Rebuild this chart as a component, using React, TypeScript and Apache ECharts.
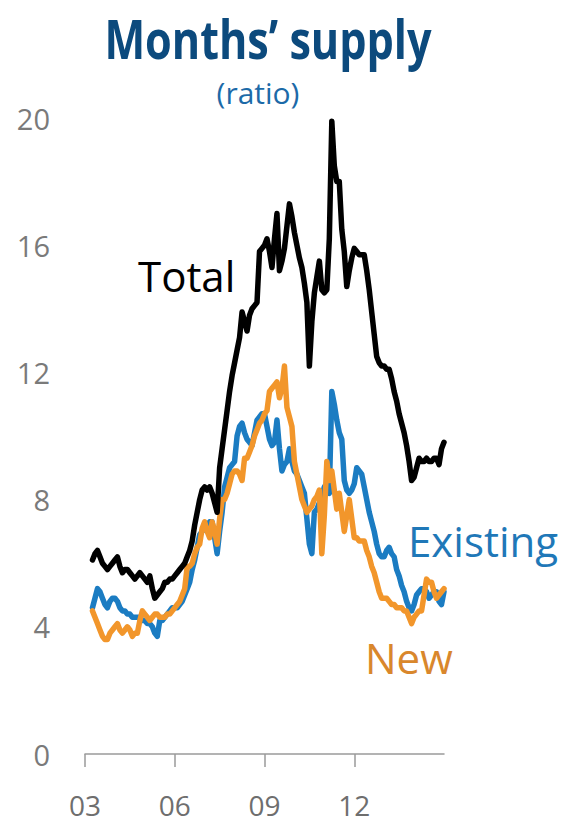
import React, { useEffect, useRef } from "react";
import * as echarts from "echarts";

// Monthly months'-supply ratios, first value = April 2003 (index 3 on the axis)
const DATA_OFFSET = 3;
const FIRST_YEAR = 2003;
const LAST_YEAR = 2015;
const YEAR_LABELS_EVERY = 3;

const totalSupply = [
  6.1, 6.3, 6.4, 6.2, 6.0, 5.9, 5.8, 5.9, 6.0, 6.1,
  6.2, 5.9, 5.7, 5.8, 5.8, 5.7, 5.6, 5.5, 5.6, 5.7,
  5.6, 5.5, 5.4, 5.6, 5.2, 4.9, 5.0, 5.1, 5.2, 5.4,
  5.4, 5.5, 5.5, 5.6, 5.7, 5.8, 5.9, 6.0, 6.2, 6.4,
  6.7, 7.2, 7.6, 8.0, 8.3, 8.4, 8.3, 8.4, 8.2, 7.9,
  7.6, 9.0, 9.6, 10.2, 10.8, 11.4, 11.9, 12.3, 12.7, 13.1,
  13.9, 13.6, 13.3, 13.8, 14.0, 14.1, 14.2, 15.8, 15.9, 16.0,
  16.2, 15.8, 15.3, 16.2, 17.0, 15.2, 15.5, 15.9, 16.6, 17.3,
  16.9, 16.4, 16.0, 15.6, 15.3, 14.8, 14.2, 12.2, 13.6, 14.5,
  15.0, 15.5, 14.6, 14.5, 14.6, 16.2, 19.9, 18.5, 18.0, 18.0,
  16.5, 15.8, 14.7, 15.2, 15.6, 15.9, 15.8, 15.7, 15.7, 15.7,
  15.2, 14.6, 13.9, 13.2, 12.5, 12.3, 12.2, 12.2, 12.1, 12.1,
  11.8, 11.4, 11.1, 10.7, 10.4, 10.1, 9.7, 9.2, 8.6, 8.7,
  9.0, 9.3, 9.2, 9.2, 9.3, 9.2, 9.2, 9.3, 9.3, 9.1,
  9.6, 9.8,
];

const existingSupply = [
  4.6, 4.9, 5.2, 5.1, 4.9, 4.7, 4.6, 4.8, 4.9, 4.9,
  4.8, 4.6, 4.5, 4.5, 4.4, 4.4, 4.3, 4.3, 4.3, 4.3,
  4.2, 4.2, 4.1, 4.1, 4.0, 3.8, 3.7, 4.2, 4.2, 4.3,
  4.4, 4.5, 4.6, 4.6, 4.6, 4.7, 4.8, 5.0, 5.2, 5.4,
  5.8, 6.1, 6.5, 6.9, 7.0, 7.1, 7.2, 7.3, 7.3, 6.8,
  6.3, 7.0, 7.6, 8.4, 8.7, 9.0, 9.1, 9.2, 10.0, 10.3,
  10.4, 10.1, 9.9, 9.8, 9.7, 10.1, 10.5, 10.6, 10.7, 10.7,
  10.3, 9.9, 9.7, 9.8, 10.5, 9.6, 8.9, 9.1, 9.2, 9.6,
  9.2, 8.9, 8.8, 8.6, 8.4, 8.2, 7.4, 6.6, 6.3, 7.6,
  7.7, 7.9, 8.1, 8.4, 8.3, 8.2, 11.4, 11.0, 10.5, 10.1,
  9.9, 8.6, 8.3, 8.2, 8.3, 8.5, 9.0, 8.9, 8.8, 8.4,
  8.0, 7.6, 7.3, 7.0, 6.6, 6.3, 6.2, 6.2, 6.4, 6.5,
  6.3, 6.2, 5.8, 5.6, 5.3, 5.1, 4.8, 4.6, 4.5, 4.7,
  5.0, 5.1, 5.2, 5.2, 5.1, 4.9, 5.0, 5.1, 5.1, 4.8,
  4.7, 5.1,
];

const newSupply = [
  4.5, 4.3, 4.1, 3.9, 3.7, 3.6, 3.6, 3.8, 3.9, 4.0,
  4.1, 3.9, 3.8, 3.9, 4.0, 3.9, 3.7, 3.8, 3.8, 4.2,
  4.5, 4.4, 4.3, 4.2, 4.3, 4.4, 4.4, 4.3, 4.3, 4.3,
  4.4, 4.4, 4.5, 4.6, 4.7, 4.8, 5.0, 5.2, 5.9, 5.9,
  6.0, 6.3, 6.5, 6.6, 7.1, 7.3, 7.0, 6.8, 7.3, 7.0,
  6.6, 7.4, 8.0, 8.0, 8.2, 8.5, 8.8, 8.9, 8.9, 8.8,
  8.6, 9.3, 9.3, 9.5, 9.7, 10.0, 10.2, 10.4, 10.5, 10.7,
  10.8, 11.4, 11.5, 11.6, 11.7, 11.2, 11.5, 12.2, 10.9, 10.6,
  10.3, 9.2, 8.8, 8.4, 8.0, 7.8, 7.6, 7.7, 7.8, 8.0,
  8.1, 8.3, 6.3, 7.5, 9.2, 8.6, 8.9, 8.3, 7.7, 8.2,
  7.6, 7.0, 7.5, 8.0, 7.4, 6.8, 6.8, 6.7, 6.7, 6.7,
  6.4, 6.2, 5.9, 5.7, 5.4, 5.1, 4.9, 4.9, 4.9, 4.8,
  4.7, 4.7, 4.6, 4.6, 4.6, 4.5, 4.5, 4.3, 4.1, 4.3,
  4.4, 4.5, 4.5, 5.0, 5.5, 5.4, 5.4, 5.1, 4.9, 5.0,
  5.1, 5.2,
];

const yTicks = [0, 4, 8, 12, 16, 20];

// month categories Jan 2003 .. Jan 2015
const months: string[] = [];
for (let y = FIRST_YEAR; y < LAST_YEAR; y++) {
  for (let m = 1; m <= 12; m++) months.push(`${y}-${String(m).padStart(2, "0")}`);
}
months.push(`${LAST_YEAR}-01`);

const pad = (arr: number[]) => [...Array(DATA_OFFSET).fill(null), ...arr];

const isLabelMonth = (i: number) =>
  i % (12 * YEAR_LABELS_EVERY) === 0 && i < months.length - 1;

const FONT = "'Open Sans', 'Noto Sans', sans-serif";

export default function App() {
  const ref = useRef<HTMLDivElement>(null);
  useEffect(() => {
    if (!ref.current) return;
    const chart = echarts.init(ref.current, null, { renderer: "svg" });
    chart.setOption({
      animation: false,
      backgroundColor: "#ffffff",
      grid: { left: 85, right: 117, top: 118, bottom: 70, containLabel: false },
      xAxis: {
        type: "category",
        data: months,
        boundaryGap: false,
        axisLine: { show: true, lineStyle: { color: "#9a9a9a", width: 1.5 } },
        axisTick: {
          show: true,
          length: 13,
          interval: (i: number) => isLabelMonth(i),
          lineStyle: { color: "#9a9a9a", width: 1.5 },
        },
        axisLabel: {
          interval: (i: number) => isLabelMonth(i),
          formatter: (v: string) => v.slice(2, 4),
          color: "#6e6e6e",
          fontSize: 28,
          lineHeight: 30,
          fontFamily: FONT,
          margin: 36,
        },
        splitLine: { show: false },
      },
      yAxis: {
        type: "value",
        min: yTicks[0],
        max: yTicks[yTicks.length - 1],
        interval: 4,
        axisLine: { show: false },
        axisTick: { show: false },
        splitLine: { show: false },
        axisLabel: {
          color: "#7a7a7a",
          fontSize: 29,
          fontFamily: FONT,
          margin: 35,
        },
      },
      series: [
        {
          name: "Existing",
          type: "line",
          data: pad(existingSupply),
          showSymbol: false,
          lineStyle: { color: "#1b7cc2", width: 5.5, cap: "round", join: "round" },
          z: 2,
        },
        {
          name: "New",
          type: "line",
          data: pad(newSupply),
          showSymbol: false,
          lineStyle: { color: "#f2962b", width: 5.5, cap: "round", join: "round" },
          z: 3,
        },
        {
          name: "Total",
          type: "line",
          data: pad(totalSupply),
          showSymbol: false,
          lineStyle: { color: "#000000", width: 5.5, cap: "round", join: "round" },
          z: 4,
        },
      ],
      graphic: [
        {
          type: "text",
          x: 268,
          y: 38,
          scaleX: 0.8,
          style: {
            text: "Months’ supply",
            font: `bold 54px ${FONT}`,
            fill: "#0c4a7d",
            textAlign: "center",
            textVerticalAlign: "middle",
          },
        },
        {
          type: "text",
          x: 258,
          y: 92,
          style: {
            text: "(ratio)",
            font: `30px ${FONT}`,
            fill: "#1c6aa8",
            textAlign: "center",
            textVerticalAlign: "middle",
          },
        },
        {
          type: "text",
          x: 138,
          y: 275,
          style: {
            text: "Total",
            font: `42px ${FONT}`,
            fill: "#000000",
            textAlign: "left",
            textVerticalAlign: "middle",
          },
        },
        {
          type: "text",
          x: 408,
          y: 540,
          style: {
            text: "Existing",
            font: `42px ${FONT}`,
            fill: "#1f78b8",
            textAlign: "left",
            textVerticalAlign: "middle",
          },
        },
        {
          type: "text",
          x: 365,
          y: 657,
          style: {
            text: "New",
            font: `42px ${FONT}`,
            fill: "#d9872c",
            textAlign: "left",
            textVerticalAlign: "middle",
          },
        },
      ],
    });
    return () => chart.dispose();
  }, []);
  return (
    <div
      ref={ref}
      style={{ position: "fixed", left: 0, top: 0, width: 561, height: 824, background: "#fff" }}
    />
  );
}
